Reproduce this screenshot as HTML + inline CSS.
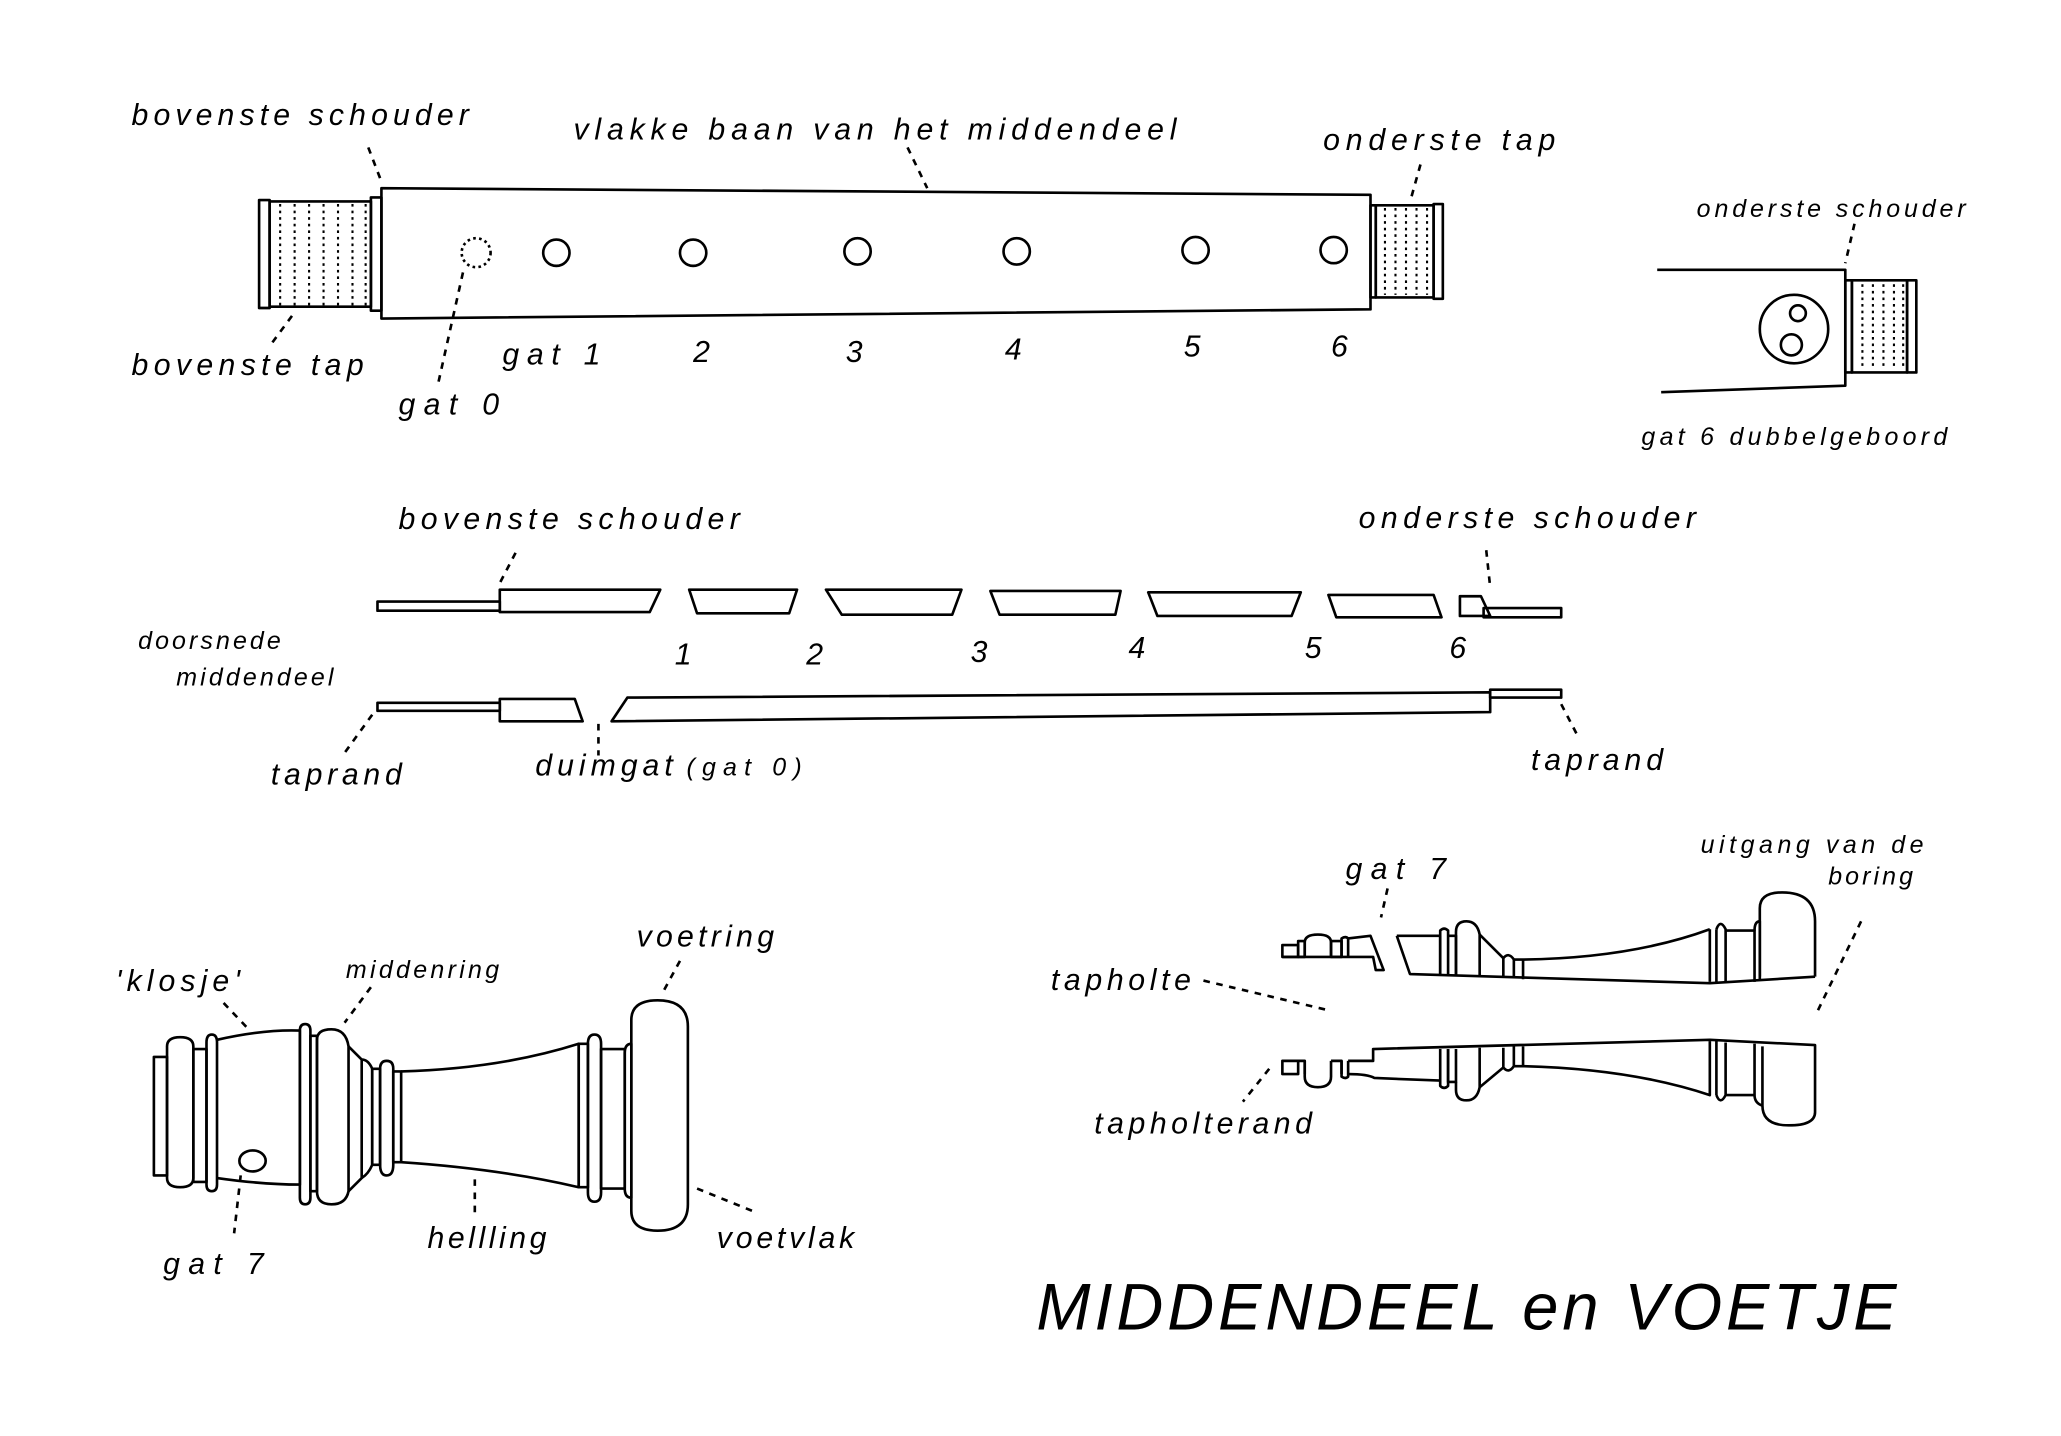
<!DOCTYPE html>
<html><head><meta charset="utf-8"><style>
html,body{margin:0;padding:0;background:#fff;}
svg{display:block}
text{font-family:"Liberation Sans",sans-serif;font-style:italic;fill:#000;letter-spacing:1.5px}
.d{stroke-dasharray:5 5}
</style></head><body>
<svg width="2061" height="1436" viewBox="0 0 1567 1091" preserveAspectRatio="none" xmlns="http://www.w3.org/2000/svg">
<g fill="none" stroke="#000" stroke-width="2" stroke-linejoin="round">
<path d="M290,143 L1042,148 L1042,235 L290,242 Z"/>
<rect x="197" y="152" width="8" height="82"/>
<rect x="205" y="153" width="77" height="80"/>
<rect x="282" y="150" width="8" height="86"/>
<g stroke-dasharray="2 3" stroke-width="1.6">
<path d="M213,155V232M224,155V232M235,155V232M246,155V232M257,155V232M268,155V232M278,155V232"/>
</g>
<rect x="1042" y="156" width="4" height="70"/>
<rect x="1046" y="156" width="44" height="70"/>
<rect x="1090" y="155" width="7" height="72"/>
<g stroke-dasharray="2 3" stroke-width="1.6">
<path d="M1053,158V224M1061,158V224M1069,158V224M1077,158V224M1085,158V224"/>
</g>
<circle cx="362" cy="192" r="11" stroke-dasharray="2 2.5"/>
<circle cx="423" cy="192" r="10"/><circle cx="527" cy="192" r="10"/><circle cx="652" cy="191" r="10"/>
<circle cx="773" cy="191" r="10"/><circle cx="909" cy="190" r="10"/><circle cx="1014" cy="190" r="10"/>
<g class="d">
<path d="M280,112L290,138M690,112L705,143M1080,125L1073,150M222,240L205,263M352,207L333,292"/>
</g>
<path d="M1260,205H1403V293L1263,298"/>
<rect x="1403" y="213" width="5" height="70"/>
<rect x="1408" y="213" width="42" height="70"/>
<rect x="1450" y="213" width="7" height="70"/>
<g stroke-dasharray="2 3" stroke-width="1.6"><path d="M1416,216V280M1424,216V280M1432,216V280M1440,216V280M1447,216V280"/></g>
<circle cx="1364" cy="250" r="26"/><circle cx="1367" cy="238" r="6"/><circle cx="1362" cy="262" r="8"/>
<path class="d" d="M1410,170L1403,200"/>
<rect x="287" y="457" width="93" height="7"/>
<path d="M380,448H502L494,465H380Z"/>
<path d="M524,448H606L600,466H530Z"/>
<path d="M628,448H731L724,467H640Z"/>
<path d="M753,449H852L848,467H760Z"/>
<path d="M873,450H989L982,468H880Z"/>
<path d="M1010,452H1090L1096,469H1016Z"/>
<path d="M1110,453H1126L1133,468H1110Z"/>
<rect x="1128" y="462" width="59" height="7"/>
<rect x="287" y="534" width="93" height="6"/>
<path d="M380,531H437L443,548H380Z"/>
<path d="M477,530L1133,526V541L465,548Z"/>
<rect x="1133" y="524" width="54" height="6"/>
<g class="d"><path d="M392,420L380,443M1130,418L1133,446M283,543L262,572M455,550V574M1187,535L1200,560"/></g>
<path d="M117,803H127V893H117Z"/>
<path d="M127,795Q127,788 137,788Q147,788 147,795V895Q147,902 137,902Q127,902 127,895Z"/>
<path d="M147,797H157V898H147Z"/>
<path d="M157,792Q157,786 161,786Q165,786 165,792V900Q165,905 161,905Q157,905 157,900Z"/>
<path d="M165,790Q200,782 228,783V900Q200,900 165,895"/>
<path d="M228,783Q228,778 232,778Q236,778 236,783V910Q236,915 232,915Q228,915 228,910Z"/>
<path d="M236,787H241V905H236Z"/>
<path d="M241,790Q241,782 252,782Q263,782 265,795V905Q263,915 252,915Q241,915 241,905Z"/>
<path d="M265,795L275,805V895L265,905"/>
<path d="M275,805Q280,805 283,812V885Q280,892 275,895"/>
<path d="M283,812H289V885H283Z"/>
<path d="M289,812Q289,806 294,806Q299,806 299,812V885Q299,893 294,893Q289,893 289,885Z"/>
<path d="M299,814H305V883H299Z"/>
<path d="M305,814Q380,812 440,793V902Q380,888 305,883"/>
<path d="M440,793H447V902H440Z"/>
<path d="M447,793Q447,786 452,786Q457,786 457,793V906Q457,913 452,913Q447,913 447,906Z"/>
<path d="M457,797H475V903H457Z"/>
<path d="M475,800Q475,793 480,793V910Q475,910 475,903Z"/>
<path d="M480,775Q480,760 500,760Q523,760 523,780V915Q523,935 500,935Q480,935 480,920Z"/>
<ellipse cx="192" cy="882" rx="10" ry="8"/>
<g class="d"><path d="M170,762L190,783M282,750L262,777M517,730L505,752M183,893L178,937M361,896V925M530,903L572,920"/></g>
<path d="M975,718H987V727H975Z"/>
<path d="M987,715H992V727H987Z"/>
<path d="M992,727V716Q992,710 1002,710Q1012,710 1012,716V727"/>
<path d="M1012,715H1020V727H1012Z"/>
<path d="M1020,727V713Q1023,711 1025,713V727"/>
<path d="M1025,713L1042,711L1052,737H1046L1044,727H975"/>
<path d="M1062,711L1072,740L1300,747L1380,742"/>
<path d="M1062,711H1095V740"/>
<path d="M1095,740V707Q1098,704 1101,707V740"/>
<path d="M1101,711H1107V741"/>
<path d="M1107,741V708Q1107,700 1115,700Q1123,700 1125,710L1125,742"/>
<path d="M1125,710L1133,718L1143,728V743"/>
<path d="M1143,728Q1147,723 1151,729V743"/>
<path d="M1151,729H1158V744M1158,729Q1240,728 1300,706"/>
<path d="M1300,706V746M1305,706V746"/>
<path d="M1305,706Q1308,698 1312,706V746"/>
<path d="M1312,707H1334V746"/>
<path d="M1334,707Q1334,700 1338,700V745"/>
<path d="M1338,742V690Q1338,678 1355,678Q1380,678 1380,700V742"/>
<path d="M975,806H987V816H975Z"/>
<path d="M987,806H992V816"/>
<path d="M992,806V818Q992,826 1002,826Q1012,826 1012,818V806"/>
<path d="M1012,806H1020V816"/>
<path d="M1020,806V818Q1023,820 1025,818V806"/>
<path d="M1025,806H1044V797L1300,790L1380,794V845Q1380,855 1360,855Q1340,855 1340,840V795"/>
<path d="M1025,816Q1040,816 1045,819L1095,821"/>
<path d="M1095,797V825Q1098,828 1101,825V797"/>
<path d="M1101,797V822H1107V797"/>
<path d="M1107,822V828Q1107,836 1115,836Q1123,836 1125,826V796"/>
<path d="M1125,826L1143,811V796M1143,811Q1147,816 1151,810V795M1151,810H1158V795"/>
<path d="M1158,810Q1240,812 1300,832V791M1305,832V791M1305,832Q1308,840 1312,832V792M1312,832H1334V793M1334,832Q1334,838 1340,840"/>
<g class="d"><path d="M1055,675L1050,697M1415,700L1382,768M915,745L1012,768M965,812L945,837"/></g>
</g>
<g font-size="23">
<text x="100" y="95" textLength="258">bovenste schouder</text>
<text x="436" y="106" textLength="460">vlakke baan van het middendeel</text>
<text x="1006" y="114" textLength="178">onderste tap</text>
<text x="100" y="285" textLength="178">bovenste tap</text>
<text x="303" y="315" textLength="78">gat 0</text>
<text x="382" y="277" textLength="76">gat 1</text>
<text x="527" y="275">2</text><text x="643" y="275">3</text><text x="764" y="273">4</text>
<text x="900" y="271">5</text><text x="1012" y="271">6</text>
<text x="303" y="402" textLength="261">bovenste schouder</text>
<text x="1033" y="401" textLength="258">onderste schouder</text>
<text x="513" y="505">1</text><text x="613" y="505">2</text><text x="738" y="503">3</text>
<text x="858" y="500">4</text><text x="992" y="500">5</text><text x="1102" y="500">6</text>
<text x="206" y="596" textLength="101">taprand</text>
<text x="407" y="589" textLength="106">duimgat</text>
<text x="1164" y="585" textLength="102">taprand</text>
<text x="484" y="719" textLength="106">voetring</text>
<text x="88" y="753" textLength="96">'klosje'</text>
<text x="124" y="968" textLength="78">gat 7</text>
<text x="325" y="948" textLength="92">hellling</text>
<text x="545" y="948" textLength="106">voetvlak</text>
<text x="1023" y="668" textLength="78">gat 7</text>
<text x="799" y="752" textLength="108">tapholte</text>
<text x="832" y="861" textLength="167">tapholterand</text>
</g>
<g font-size="19">
<text x="1290" y="165" textLength="206">onderste schouder</text>
<text x="1248" y="338" textLength="234">gat 6 dubbelgeboord</text>
<text x="105" y="493" textLength="110">doorsnede</text>
<text x="134" y="521" textLength="121">middendeel</text>
<text x="522" y="589" textLength="89">(gat 0)</text>
<text x="263" y="743" textLength="118">middenring</text>
<text x="1293" y="648" textLength="171">uitgang van de</text>
<text x="1390" y="672" textLength="66">boring</text>
</g>
<text x="788" y="1010" font-size="50" style="font-family:'Liberation Sans Narrow','Liberation Sans',sans-serif;font-style:italic;letter-spacing:3px" textLength="657" lengthAdjust="spacingAndGlyphs">MIDDENDEEL  en  VOETJE</text>
</svg>
</body></html>
